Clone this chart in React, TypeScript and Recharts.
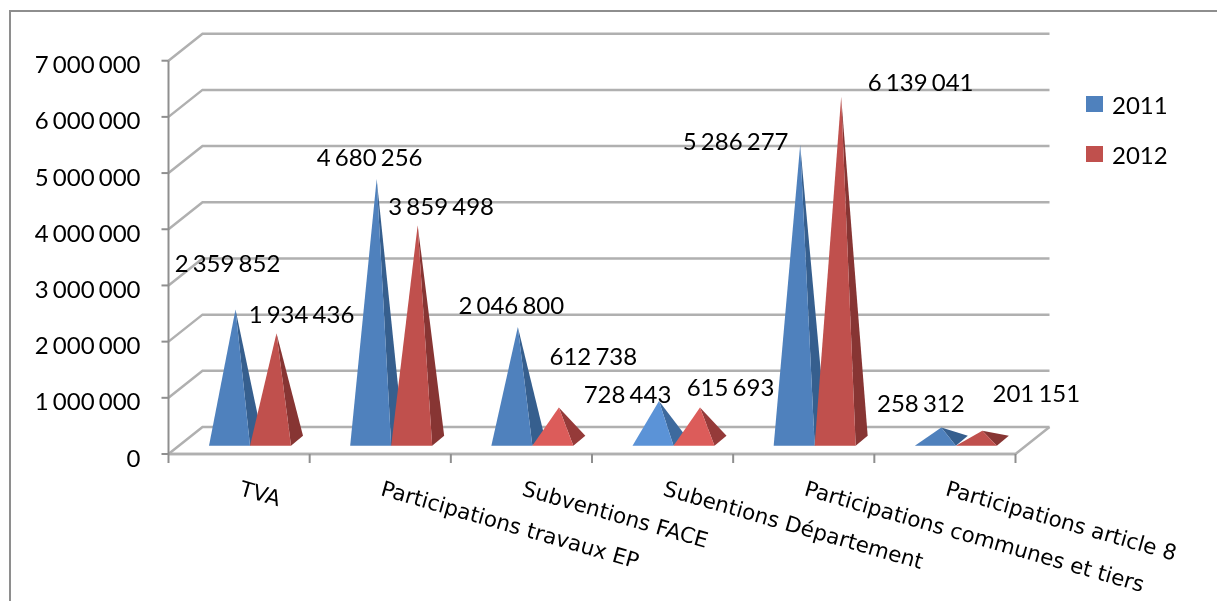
import React from 'react';
import {
  BarChart,
  Bar,
  XAxis,
  YAxis,
  CartesianGrid,
  Legend,
  LabelList,
} from 'recharts';

const categories = [
  'TVA',
  'Participations travaux EP',
  'Subventions FACE',
  'Subentions Département',
  'Participations communes et tiers',
  'Participations article 8',
];
const values2011 = [2359852, 4680256, 2046800, 728443, 5286277, 258312];
const values2012 = [1934436, 3859498, 612738, 615693, 6139041, 201151];
const yTicks = [0, 1000000, 2000000, 3000000, 4000000, 5000000, 6000000, 7000000];

// Label nudges away from the top of each bar, the original labels were moved by hand
const labelNudge2011 = [[8.5, -58], [9.5, -34], [10, -34], [-15, -19], [-48, -16], [-4, -36]];
const labelNudge2012 = [[41.5, -31], [40, -31], [51, -64], [47, -32], [96, -27], [70.5, -50]];

const data = categories.map((name, i) => ({
  name,
  y2011: values2011[i],
  y2012: values2012[i],
}));

const WIDTH = 1217;
const HEIGHT = 601;
const GRID = '#b0b0b0';
const AXIS = '#8f8f8f';
const NUM_FONT = 'Lato, sans-serif';

// 3D wall offset
const DEPTH_X = 34;
const DEPTH_Y = 27;
const BAND = 847 / categories.length;

const formatNumber = (v: number) => String(v).replace(/\B(?=(\d{3})+$)/g, ' ');

const gridLine = (props: any) => {
  const { x1, x2, y1, key } = props;
  const isFloor = y1 > 450;
  return (
    <g key={key}>
      <polyline
        points={`${x1},${y1} ${x1 + DEPTH_X},${y1 - DEPTH_Y} ${x2 + DEPTH_X},${y1 - DEPTH_Y}`}
        fill="none"
        stroke={GRID}
        strokeWidth={2.5}
      />
      {isFloor && (
        <polyline
          points={`${x1},${y1} ${x2},${y1} ${x2 + DEPTH_X},${y1 - DEPTH_Y}`}
          fill="none"
          stroke={GRID}
          strokeWidth={2.5}
        />
      )}
    </g>
  );
};

// Small pyramids catch more light in the original
const faceColors = (value: number, series: '2011' | '2012') => {
  const lit = value > 500000 && value < 1000000;
  if (series === '2011') {
    return lit ? { front: '#5b93d7', side: '#3d6a9e' } : { front: '#4f81bd', side: '#365f8e' };
  }
  return lit ? { front: '#dc5c5a', side: '#953a39' } : { front: '#c0504d', side: '#873533' };
};

const Pyramid = (props: any) => {
  const { x, y, width, height, value, series } = props;
  const left = x + 10.5;
  const right = left + width;
  const base = y + height - 8.3;
  const apexX = left + width / 2 + 6;
  const apexY = y - 12;
  const { front, side } = faceColors(Array.isArray(value) ? value[1] : value, series);
  return (
    <g>
      <polygon points={`${right},${base} ${right + 12},${base - 10} ${apexX},${apexY}`} fill={side} />
      <polygon points={`${left},${base} ${right},${base} ${apexX},${apexY}`} fill={front} />
    </g>
  );
};

const makeLabel = (nudges: number[][]) => (props: any) => {
  const { x, y, width, value, index } = props;
  const [dx, dy] = nudges[index];
  return (
    <text
      x={x + width / 2 + dx}
      y={y + dy - 0.5}
      textAnchor="middle"
      dominantBaseline="central"
      fontFamily={NUM_FONT}
      fontSize={24}
      wordSpacing={-2}
      fill="#000"
    >
      {formatNumber(value)}
    </text>
  );
};

const YTick = (props: any) => {
  const { x, y, payload } = props;
  return (
    <text
      x={x - 19}
      y={y + 3}
      textAnchor="end"
      dominantBaseline="central"
      fontFamily={NUM_FONT}
      fontSize={24}
      wordSpacing={-2}
      fill="#000"
    >
      {formatNumber(payload.value)}
    </text>
  );
};

const XTick = (props: any) => {
  const { x, y, payload, index } = props;
  return (
    <g>
      <line x1={x - BAND / 2} y1={y - 8} x2={x - BAND / 2} y2={y + 1} stroke={AXIS} strokeWidth={2} />
      {index === categories.length - 1 && (
        <line x1={x + BAND / 2} y1={y - 8} x2={x + BAND / 2} y2={y + 1} stroke={AXIS} strokeWidth={2} />
      )}
      <text
        x={0}
        y={0}
        transform={`translate(${x - 0.5}, ${y + 33}) rotate(16)`}
        fontFamily="'DejaVu Sans', sans-serif"
        fontSize={21.4}
        fill="#000"
      >
        {payload.value}
      </text>
    </g>
  );
};

const LegendBox = () => (
  <div style={{ fontFamily: NUM_FONT, fontSize: 24, color: '#000' }}>
    {[
      { label: '2011', color: '#4f81bd' },
      { label: '2012', color: '#c0504d' },
    ].map((item) => (
      <div key={item.label} style={{ display: 'flex', alignItems: 'center', height: 50 }}>
        <span style={{ width: 17, height: 16, background: item.color, marginRight: 9 }} />
        <span>{item.label}</span>
      </div>
    ))}
  </div>
);

export default function App() {
  return (
    <div
      style={{
        position: 'absolute',
        left: 0,
        top: 0,
        width: WIDTH,
        height: HEIGHT,
        overflow: 'hidden',
        background: '#fff',
      }}
    >
      <div
        style={{
          position: 'absolute',
          left: 9,
          top: 10,
          width: WIDTH,
          height: HEIGHT,
          borderLeft: '2px solid #8e8e8e',
          borderTop: '2px solid #8e8e8e',
        }}
      />
      <div style={{ position: 'absolute', left: 0, top: 0, filter: 'blur(0.55px)' }}>
        <BarChart
          width={WIDTH}
          height={HEIGHT}
          data={data}
          barSize={41}
          barGap={0}
          margin={{ top: 60.7, right: 201.5, bottom: 87, left: 8.5 }}
        >
          <CartesianGrid vertical={false} horizontal={gridLine} />
          <XAxis
            dataKey="name"
            height={60}
            interval={0}
            axisLine={{ stroke: GRID, strokeWidth: 2.5 }}
            tickLine={false}
            tick={XTick}
          />
          <YAxis
            width={160}
            domain={[0, 7000000]}
            ticks={yTicks}
            interval={0}
            axisLine={{ stroke: AXIS, strokeWidth: 2 }}
            tickLine={{ stroke: AXIS, strokeWidth: 2 }}
            tickSize={7}
            tick={YTick}
          />
          <Legend
            layout="horizontal"
            verticalAlign="middle"
            align="center"
            wrapperStyle={{ left: 1086, top: 79, width: 110 }}
            content={LegendBox}
          />
          <Bar
            dataKey="y2011"
            isAnimationActive={false}
            fill="#4f81bd"
            shape={(p: any) => <Pyramid {...p} value={p.y2011} series="2011" />}
          >
            <LabelList dataKey="y2011" content={makeLabel(labelNudge2011)} />
          </Bar>
          <Bar
            dataKey="y2012"
            isAnimationActive={false}
            fill="#c0504d"
            shape={(p: any) => <Pyramid {...p} value={p.y2012} series="2012" />}
          >
            <LabelList dataKey="y2012" content={makeLabel(labelNudge2012)} />
          </Bar>
        </BarChart>
      </div>
    </div>
  );
}
